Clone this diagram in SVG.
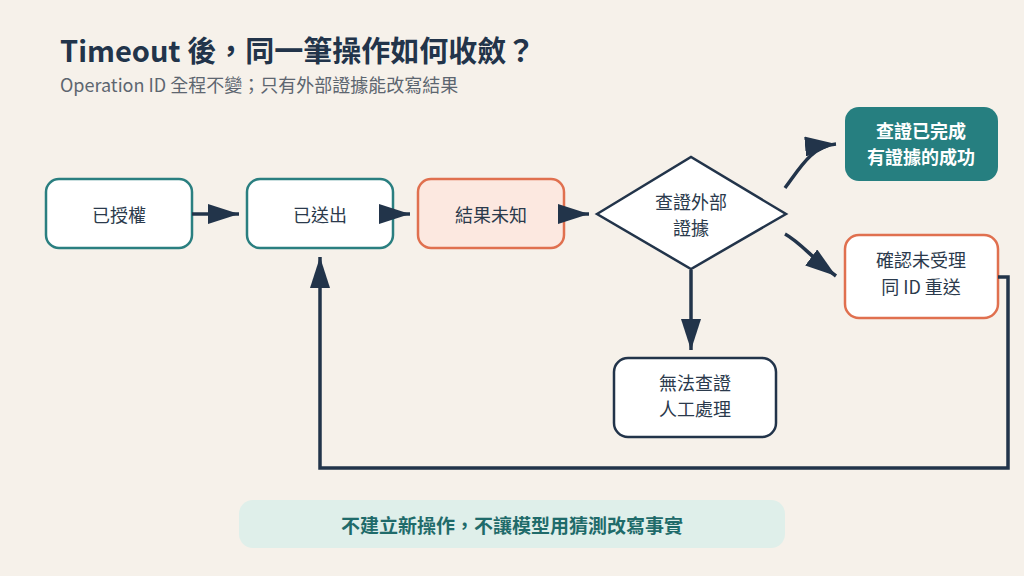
<svg xmlns="http://www.w3.org/2000/svg" width="1024" height="576" viewBox="0 0 1024 576">
  <style>
    text { font-family: "Noto Sans CJK TC", "Noto Sans", sans-serif; }
    .title { font-size: 29px; font-weight: 700; fill: #22344a; }
    .sub { font-size: 18px; fill: #5d6670; }
    .lbl { font-size: 18px; fill: #2b3a4c; text-anchor: middle; dominant-baseline: central; }
    .lblw { font-size: 18px; font-weight: 700; fill: #ffffff; text-anchor: middle; dominant-baseline: central; }
    .teal { fill: #ffffff; stroke: #2a7f80; stroke-width: 2.5; }
    .orange { fill: #ffffff; stroke: #e0704f; stroke-width: 2.5; }
    .peach { fill: #fce8e0; stroke: #e0704f; stroke-width: 2.5; }
    .dark { fill: #ffffff; stroke: #22344a; stroke-width: 2.5; }
    .conn { fill: none; stroke: #22344a; stroke-width: 3.5; }
  </style>
  <defs>
    <marker id="arr" markerUnits="userSpaceOnUse" markerWidth="31" markerHeight="20" refX="31" refY="10" orient="auto">
      <path d="M0,0 L31,10 L0,20 z" fill="#22344a"/>
    </marker>
  </defs>
  <rect width="1024" height="576" fill="#f6f1ea"/>

  <text class="title" x="60" y="62">Timeout 後，同一筆操作如何收斂？</text>
  <text class="sub" x="60" y="92">Operation ID 全程不變；只有外部證據能改寫結果</text>

  <g id="n-authorized">
    <rect class="teal" x="46" y="179" width="146" height="69" rx="13"/>
    <text class="lbl" x="119" y="214">已授權</text>
  </g>
  <g id="n-sent">
    <rect class="teal" x="247" y="179" width="146" height="69" rx="13"/>
    <text class="lbl" x="320" y="214">已送出</text>
  </g>
  <g id="n-unknown">
    <rect class="peach" x="418" y="179" width="146" height="69" rx="13"/>
    <text class="lbl" x="491" y="214">結果未知</text>
  </g>
  <g id="n-check">
    <polygon class="dark" points="597,214 691,157 786,214 691,269"/>
    <text class="lbl" x="691" y="201">查證外部</text>
    <text class="lbl" x="691" y="227">證據</text>
  </g>
  <g id="n-success">
    <rect x="845" y="107" width="153" height="74" rx="14" fill="#267f80"/>
    <text class="lblw" x="921" y="130">查證已完成</text>
    <text class="lblw" x="921" y="156">有證據的成功</text>
  </g>
  <g id="n-resend">
    <rect class="orange" x="845" y="235" width="153" height="83" rx="14"/>
    <text class="lbl" x="921" y="259">確認未受理</text>
    <text class="lbl" x="921" y="286">同 ID 重送</text>
  </g>
  <g id="n-manual">
    <rect class="dark" x="614" y="358" width="162" height="79" rx="14"/>
    <text class="lbl" x="695" y="382">無法查證</text>
    <text class="lbl" x="695" y="408">人工處理</text>
  </g>
  <g id="banner">
    <rect x="239" y="500" width="546" height="48" rx="14" fill="#dfefea"/>
    <text x="512" y="524" font-size="19" font-weight="700" fill="#1f6b6a" text-anchor="middle" dominant-baseline="central">不建立新操作，不讓模型用猜測改寫事實</text>
  </g>

  <g id="connectors">
    <line class="conn" x1="192" y1="214" x2="239" y2="214" marker-end="url(#arr)"/>
    <line class="conn" x1="393" y1="214" x2="410" y2="214" marker-end="url(#arr)"/>
    <line class="conn" x1="564" y1="214" x2="589" y2="214" marker-end="url(#arr)"/>
    <path class="conn" d="M785,188 C800,168 812,146 836,144" marker-end="url(#arr)"/>
    <path class="conn" d="M785,234 C800,242 812,258 836,276" marker-end="url(#arr)"/>
    <line class="conn" x1="691" y1="270" x2="691" y2="350" marker-end="url(#arr)"/>
    <path class="conn" d="M998,277 L1008,277 L1008,468 L320,468 L320,257" marker-end="url(#arr)"/>
  </g>
</svg>
